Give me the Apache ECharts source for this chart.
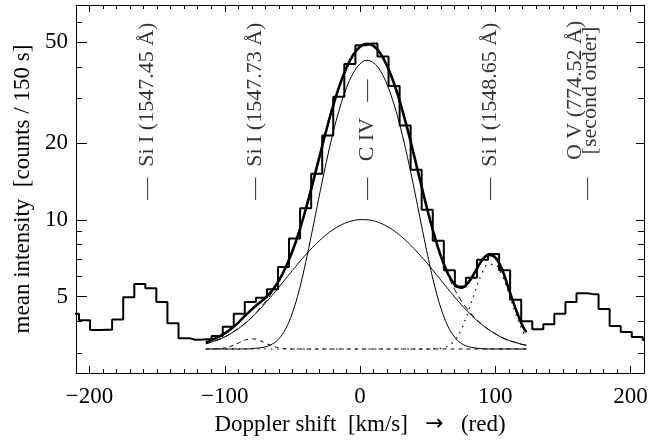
<!DOCTYPE html>
<html>
<head>
<meta charset="utf-8">
<script src="https://cdn.jsdelivr.net/npm/echarts@6/dist/echarts.min.js"></script>
<style>html,body{margin:0;padding:0;background:#fff;}#c{width:657px;height:441px;}</style>
</head>
<body>
<div id="c"></div>
<script>
// Histogram (bin centres in km/s, mean counts / 150 s)
const histX = [-211.9,-203.7,-195.5,-187.4,-179.2,-171.0,-162.8,-154.7,-146.5,-138.3,-130.1,-122.0,-113.8,-105.6,-97.4,-89.3,-81.1,-72.9,-64.7,-56.6,-48.4,-40.2,-32.0,-23.9,-15.7,-7.5,0.7,8.8,17.0,25.2,33.4,41.5,49.7,57.9,66.1,74.2,82.4,90.6,98.8,106.9,115.1,123.3,131.5,139.6,147.8,156.0,164.2,172.3,180.5,188.7,196.9,205.0,213.2];
const histY = [4.28,4.03,3.69,3.70,4.06,4.97,5.60,5.39,4.76,3.93,3.43,3.38,3.40,3.50,3.80,4.28,4.76,4.95,5.34,6.53,8.45,11.13,15.19,21.49,30.5,41.0,48.6,49.4,43.9,33.6,23.5,15.74,10.97,8.28,6.34,5.47,5.92,6.97,7.35,6.34,4.86,4.00,3.72,3.89,4.28,4.76,5.15,5.11,4.47,3.83,3.63,3.47,3.37];

// Fitted curves sampled along the fit range
const fitX = [-114,-110,-105,-100,-95,-90,-85,-80,-75,-70,-65,-60,-55,-50,-45,-40,-35,-30,-25,-20,-15,-10,-5,0,5,10,15,20,25,30,35,40,45,50,55,60,65,70,75,80,85,90,95,100,105,110,115,120,123];
const fitTotal = [3.30,3.37,3.46,3.58,3.74,3.95,4.20,4.45,4.69,4.94,5.28,5.77,6.50,7.53,9.00,11.07,13.93,17.71,22.44,27.95,33.90,39.69,44.62,48.01,49.31,48.33,45.20,40.39,34.62,28.56,22.85,17.90,13.91,10.88,8.69,7.16,6.16,5.58,5.41,5.67,6.24,6.91,7.29,7.13,6.40,5.35,4.49,3.85,3.62];
const fitNarrow = [3.11,3.11,3.11,3.11,3.11,3.11,3.11,3.12,3.14,3.17,3.25,3.41,3.73,4.31,5.29,6.87,9.23,12.53,16.80,21.91,27.52,33.04,37.79,41.09,42.40,41.52,38.59,34.07,28.65,23.01,17.76,13.30,9.81,7.27,5.55,4.47,3.82,3.46,3.27,3.18,3.14,3.12,3.11,3.11,3.11,3.11,3.11,3.11,3.11];
const fitBroad = [3.26,3.31,3.38,3.47,3.59,3.74,3.92,4.14,4.40,4.71,5.05,5.44,5.87,6.33,6.82,7.31,7.81,8.29,8.75,9.15,9.50,9.76,9.94,10.03,10.02,9.92,9.72,9.43,9.08,8.66,8.20,7.71,7.21,6.72,6.24,5.78,5.36,4.98,4.64,4.35,4.09,3.88,3.71,3.57,3.45,3.36,3.30,3.24,3.22];
const fitCIV = [3.26,3.31,3.38,3.47,3.59,3.74,3.92,4.15,4.43,4.77,5.19,5.74,6.49,7.53,9.00,11.07,13.93,17.71,22.44,27.95,33.90,39.69,44.62,48.01,49.31,48.33,45.20,40.39,34.62,28.56,22.85,17.90,13.91,10.88,8.68,7.14,6.07,5.33,4.80,4.42,4.12,3.89,3.71,3.57,3.45,3.36,3.30,3.24,3.22];
const fitSi1 = [3.11,3.11,3.12,3.14,3.20,3.28,3.37,3.41,3.37,3.28,3.20,3.14,3.12,3.11,3.11,3.11,3.11,3.11,3.11,3.11,3.11,3.11,3.11,3.11,3.11,3.11,3.11,3.11,3.11,3.11,3.11,3.11,3.11,3.11,3.11,3.11,3.11,3.11,3.11,3.11,3.11,3.11,3.11,3.11,3.11,3.11,3.11,3.11,3.11];
const fitSi2 = [3.11,3.11,3.11,3.11,3.11,3.11,3.11,3.11,3.11,3.11,3.11,3.11,3.11,3.11,3.11,3.11,3.11,3.11,3.11,3.11,3.11,3.11,3.11,3.11,3.11,3.11,3.11,3.11,3.11,3.11,3.11,3.11,3.11,3.11,3.12,3.13,3.20,3.36,3.72,4.36,5.23,6.13,6.69,6.67,6.06,5.16,4.30,3.68,3.45];

// Ticks
const xTickLabels = [-200,-100,0,100,200];
const yTickLabels = [5,10,20,50];
const yMinorTicks = [3,4,6,7,8,9,30,40,60];

// Line annotations
const annoText = ['\u2014  Si I (1547.45 \u00C5)','\u2014  Si I (1547.73 \u00C5)','\u2014   C IV   \u2014','\u2014  Si I (1548.65 \u00C5)','\u2014','O V (774.52 \u00C5)','[second order]'];
const annoX = [-157.5,-77.8,5.4,96.3,167.7,159.3,170.2];
const annoY = [12,12,12,12,12,17.2,18.1];

const FONT = "'Liberation Serif','Times New Roman',serif";
const zip = (xs, ys) => xs.map((x, i) => [x, ys[i]]);
const minus = v => String(v).replace('-', '\u2212');

const X0 = -210, X1 = 210, Y0 = 2.5, Y1 = 70;
const lbl = {fontFamily: FONT, fontSize: 23, color: '#000'};
const nameStyle = Object.assign({rich: {a: {fontFamily: "'DejaVu Sans'", fontSize: 22, color: '#000'}}}, lbl);

function xAx(pos, major, withLine) {
  return {
    type: 'value', min: X0, max: X1, position: pos,
    interval: major ? undefined : 10,
    axisLine: {show: withLine, onZero: false, lineStyle: {color: '#000', width: 1}},
    axisTick: major ? {show: true, inside: true, length: 7, customValues: xTickLabels, lineStyle: {color: '#000'}}
                    : {show: true, inside: true, length: 4, lineStyle: {color: '#000'}},
    axisLabel: (major && pos === 'bottom') ? Object.assign({show: true, margin: 12, customValues: xTickLabels, formatter: minus}, lbl) : {show: false},
    splitLine: {show: false},
    name: (major && pos === 'bottom') ? 'Doppler shift  [km/s]   {a|\u2192}   (red)' : '',
    nameLocation: 'middle', nameGap: 34, nameTextStyle: nameStyle
  };
}
function yAx(pos, major, withLine) {
  const left = pos === 'left';
  return {
    type: 'log', min: Y0, max: Y1, position: pos,
    axisLine: {show: withLine, onZero: false, lineStyle: {color: '#000', width: 1}},
    axisTick: {show: true, inside: true, length: major ? (left ? 11 : 8) : 6, customValues: major ? yTickLabels : yMinorTicks, lineStyle: {color: '#000'}},
    axisLabel: (major && left) ? Object.assign({show: true, margin: 8, customValues: yTickLabels}, lbl) : {show: false},
    splitLine: {show: false}, minorTick: {show: false},
    name: (major && left) ? 'mean intensity  [counts / 150 s]' : '',
    nameLocation: 'middle', nameGap: 40, nameTextStyle: lbl
  };
}

const chart = echarts.init(document.getElementById('c'), null, {renderer: 'canvas'});
const line = (data, width, type, z) => ({
  type: 'line', data, symbol: 'none', smooth: 0.4, z, silent: true, animation: false,
  lineStyle: {color: '#000', width, type}
});

chart.setOption({
  animation: false,
  backgroundColor: '#fff',
  grid: {left: 76, right: 13, top: 5, bottom: 62, containLabel: false},
  xAxis: [xAx('bottom', true, true), xAx('bottom', false, false), xAx('top', true, true), xAx('top', false, false)],
  yAxis: [yAx('left', true, true), yAx('left', false, false), yAx('right', true, true), yAx('right', false, false)],
  series: [
    {type: 'line', step: 'middle', data: zip(histX, histY), symbol: 'none', z: 3, silent: true,
     lineStyle: {color: '#000', width: 2}},
    line(zip(fitX, fitNarrow), 1, 'solid', 4),
    line(zip(fitX, fitBroad), 1, 'solid', 4),
    line(zip(fitX, fitCIV), 1, [6, 4], 4),
    line(zip(fitX, fitSi1), 1, [4, 4], 4),
    line(zip(fitX, fitSi2), 1.2, [1.5, 5], 4),
    line(zip(fitX, fitTotal), 2.6, 'solid', 5),
    {type: 'scatter', symbolSize: 0, silent: true, z: 6,
     data: annoX.map((x, i) => [x, annoY[i], annoText[i]]),
     label: {show: true, position: 'inside', rotate: 90, align: 'left', verticalAlign: 'middle',
             formatter: p => p.data[2], fontFamily: FONT, fontSize: 22, color: '#000'}}
  ]
});
</script>
</body>
</html>
